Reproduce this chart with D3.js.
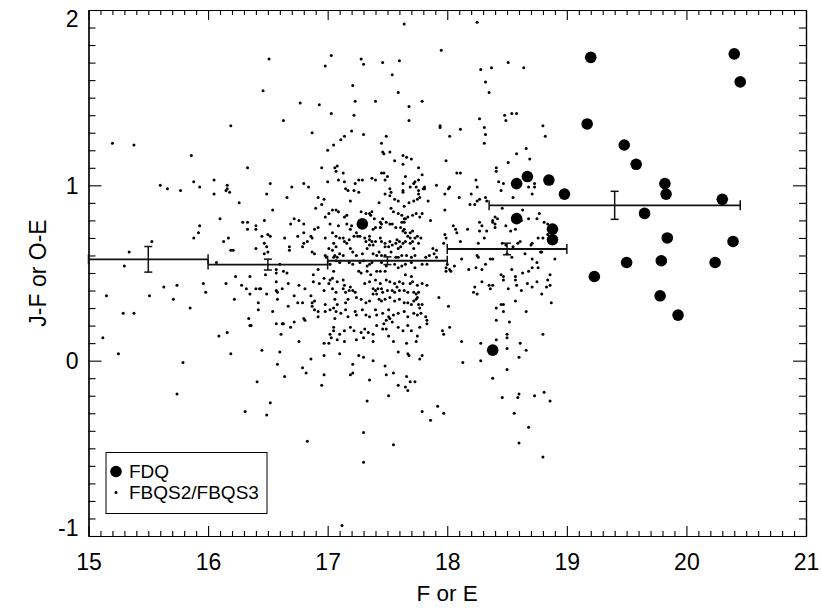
<!DOCTYPE html>
<html>
<head>
<meta charset="utf-8">
<script src="https://cdn.jsdelivr.net/npm/d3@7"></script>
<style>
  html, body { margin: 0; padding: 0; background: #fff; }
  svg { display: block; font-family: "Liberation Sans", Arial, Helvetica, sans-serif; }
</style>
</head>
<body>
<svg id="chart" width="822" height="608"></svg>
<script>
// ---------------- DATA ----------------
const xDomain = [15, 21];
const yDomain = [-1, 2];
const xMajorTicks = [15, 16, 17, 18, 19, 20, 21];
const yMajorTicks = [-1, 0, 1, 2];
const xLabel = "F or E";
const yLabel = "J-F or O-E";
const legendLabels = ["FDQ", "FBQS2/FBQS3"];

// FDQ objects (large dots) : [F or E, J-F or O-E]
const fdq = [[19.20,1.73],[20.40,1.75],[20.45,1.59],[19.17,1.35],[19.48,1.23],[19.58,1.12],[19.82,1.01],[19.83,0.95],[20.30,0.92],[19.65,0.84],[19.84,0.70],[20.39,0.68],[19.50,0.56],[19.79,0.57],[20.24,0.56],[19.23,0.48],[19.78,0.37],[19.93,0.26],[18.67,1.05],[18.58,1.01],[18.85,1.03],[18.98,0.95],[18.58,0.81],[18.88,0.75],[18.88,0.69],[17.29,0.78],[18.38,0.06]];

// FBQS2/FBQS3 objects (small dots)
const fbqs = [
[15.20,1.24],[15.38,1.23],[15.60,1.00],[15.66,0.98],[15.77,0.97],[15.86,1.17],[15.88,1.02],[15.93,0.99],[16.05,1.03],[16.16,1.00],[16.16,0.98],[16.19,1.34],[16.33,1.10],[16.46,1.54],[16.51,1.72],[16.52,1.01],[16.63,1.37],[16.70,0.99],[16.77,1.47],[16.80,1.01],[16.84,0.99],[16.87,1.30],[16.93,1.46],[16.95,1.10],[16.98,1.68],[17.00,1.20],[17.00,1.02],[17.03,1.74],[17.03,1.41],[17.05,1.23],[17.06,1.10],
[17.08,1.11],[17.07,1.08],[17.09,1.03],[17.13,1.07],[17.14,1.02],[17.11,1.26],[17.14,1.28],[17.15,0.98],[17.20,1.31],[17.21,1.57],[17.22,1.40],[17.23,1.48],[17.23,1.01],[17.26,1.03],[17.29,1.03],[17.28,1.72],[17.30,1.69],[17.30,1.29],[17.37,1.04],[17.40,1.03],[17.40,1.48],[17.45,1.24],[17.46,1.70],[17.45,1.07],[17.47,1.07],[17.46,1.19],[17.47,1.18],[17.49,1.28],[17.48,1.03],[17.50,1.05],[17.52,1.19],[17.52,0.98],[17.54,1.63],[17.56,1.14],[17.59,1.53],[17.60,1.71],[17.63,1.17],[17.66,1.16],[17.63,1.12],[17.64,1.92],[17.63,1.01],[17.65,1.05],[17.68,1.45],[17.68,1.37],[17.70,1.15],[17.72,1.01],[17.73,1.02],[17.76,1.03],[17.74,0.99],[17.76,1.10],[17.79,1.48],[17.79,1.06],[17.81,0.99],[17.80,0.98],[17.91,1.00],[17.94,1.33],[17.94,1.34],[17.95,1.77],[17.99,1.14],[18.02,0.99],[18.02,1.28],[18.08,1.07],[18.11,1.07],[18.11,1.32],[18.25,1.93],[18.24,1.03],[18.25,0.99],[18.27,1.38],[18.28,1.66],[18.31,1.33],[18.32,1.59],[18.32,1.29],[18.31,1.24],[18.35,1.53],[18.37,1.67],[18.41,1.10],[18.41,1.08],[18.43,1.02],[18.47,1.01],[18.48,1.40],[18.49,1.37],[18.51,1.70],[18.51,1.13],[18.54,1.41],[18.58,1.41],[18.58,1.18],[18.64,1.67],[18.66,1.21],[18.69,1.15],[18.68,0.99],[18.73,1.01],[18.73,0.99],[18.80,1.34],[18.82,1.28],
[16.15,0.97],[16.18,0.96],[16.05,0.95],[16.26,0.90],[16.49,0.95],[16.66,0.93],[16.92,0.93],[16.97,0.92],[16.90,0.87],[16.95,0.89],[17.01,0.84],[17.04,0.86],[16.98,0.82],[16.54,0.86],[16.10,0.81],[15.93,0.77],[15.92,0.73],[15.88,0.70],[16.13,0.68],[16.17,0.70],[16.19,0.63],[16.21,0.63],[16.29,0.79],[16.33,0.79],[16.33,0.75],[16.40,0.77],[16.40,0.75],[16.47,0.80],[16.45,0.71],[16.40,0.64],[16.47,0.67],[16.49,0.65],[16.50,0.72],[16.52,0.71],[16.47,0.61],[16.50,0.62],[16.64,0.70],[16.68,0.65],[16.68,0.63],[16.69,0.78],[16.72,0.81],[16.76,0.80],[16.80,0.78],[16.75,0.71],[16.80,0.73],[16.79,0.65],[16.80,0.67],[16.83,0.68],[16.86,0.71],[16.87,0.70],[16.89,0.75],[16.92,0.76],[16.87,0.62],[16.89,0.61],[16.98,0.70],[17.01,0.64],[17.04,0.73],[17.05,0.67],[16.98,0.60],[16.99,0.59],[15.53,0.68],[15.34,0.62],[15.30,0.54],[16.07,0.56],[16.60,0.55],[16.48,0.49],[16.57,0.52],[16.57,0.50],[16.63,0.51],[16.66,0.50],[16.92,0.52],[17.05,0.51],[17.04,0.47],[17.02,0.46],[17.01,0.44],[16.88,0.49],[16.88,0.45],[16.93,0.44],[16.97,0.47],[17.04,0.41],[16.97,0.40],[16.81,0.41],[16.76,0.43],[16.67,0.44],[16.57,0.45],[16.62,0.41],[16.57,0.40],[16.58,0.39],[16.49,0.38],[16.58,0.35],[16.43,0.41],[16.40,0.41],[16.44,0.41],[16.35,0.48],[16.23,0.48],[16.28,0.43],[16.32,0.41],[16.35,0.38],[16.15,0.44],[15.96,0.44],[15.98,0.39],[15.74,0.43],[15.63,0.42],[15.71,0.35],[15.51,0.37],[15.15,0.37],[16.22,0.35],[16.42,0.33],[16.42,0.29],[16.54,0.28],[16.67,0.31],[16.72,0.37],[16.75,0.33],[16.79,0.33],[16.86,0.37],[16.89,0.34],[16.87,0.33],[16.87,0.31],[16.89,0.29],[16.92,0.28],[16.98,0.32],[16.98,0.28],[16.92,0.25],[16.81,0.23],[16.80,0.24],[16.72,0.22],[16.69,0.19],[16.62,0.21],[16.63,0.21],[16.57,0.21],[16.61,0.15],[16.34,0.24],[16.35,0.20],[16.36,0.20],[16.16,0.16],[16.09,0.14],[15.85,0.30],[15.38,0.27],[15.29,0.27],[15.12,0.13],[15.25,0.04],[15.79,-0.01],[16.19,0.04],[16.45,0.06],[16.60,0.05],[16.58,-0.02],[16.76,0.11],[16.97,0.10],[17.01,0.10],[17.02,0.15],[17.03,0.13],[17.05,0.19],[17.06,0.24],[16.97,0.03],[16.86,0.01],[16.79,-0.04],[16.82,-0.07],[16.97,-0.08],
[15.74,-0.19],[16.31,-0.29],[16.41,-0.12],[16.49,-0.31],[16.52,-0.24],[16.64,-0.09],[16.83,-0.46],[16.95,-0.14],
[17.19,-0.08],[17.21,-0.07],[17.35,-0.11],[17.33,-0.23],[17.30,-0.41],[17.30,-0.58],[17.49,-0.08],[17.55,-0.07],[17.51,-0.20],[17.55,-0.48],[17.59,-0.14],[17.66,-0.09],[17.65,-0.15],[17.67,-0.17],[17.69,-0.12],[17.73,-0.12],[17.79,-0.29],[17.86,-0.34],[17.92,-0.26],[17.97,-0.30],[17.12,-0.94],[18.38,-0.10],[18.50,-0.05],[18.46,-0.21],[18.59,-0.21],[18.60,-0.19],[18.73,-0.20],[18.81,-0.18],[18.86,-0.23],[18.56,-0.30],[18.68,-0.38],[18.60,-0.47],[18.80,-0.55],
[17.17,0.97],[17.22,0.97],[17.26,0.96],[17.53,0.96],[17.63,0.97],[17.63,0.96],[17.69,0.99],[17.76,0.97],[17.81,0.98],[18.01,0.98],[18.45,0.97],[18.71,0.95],[17.19,0.91],[17.48,0.95],[17.52,0.94],[17.56,0.92],[17.59,0.91],[17.43,0.90],[17.76,0.95],[17.77,0.93],[17.75,0.92],[17.72,0.91],[17.68,0.90],[17.64,0.88],[17.84,0.91],[17.98,0.95],[18.10,0.93],[18.20,0.95],[18.27,0.92],[18.25,0.91],[18.23,0.89],[18.32,0.93],[18.33,0.91],[18.19,0.89],[18.55,0.93],[18.46,0.87],[18.63,0.86],[18.77,0.84],[18.75,0.81],[18.68,0.81],[18.62,0.80],[17.07,0.86],[17.09,0.85],[17.16,0.83],[17.14,0.82],[17.28,0.85],[17.32,0.84],[17.35,0.84],[17.36,0.83],[17.39,0.81],[17.37,0.85],[17.53,0.87],[17.55,0.85],[17.59,0.84],[17.62,0.83],[17.64,0.81],[17.64,0.79],[17.65,0.81],[17.67,0.82],[17.62,0.79],[17.71,0.83],[17.74,0.84],[17.77,0.82],[17.79,0.84],[17.86,0.80],[17.98,0.86],[17.44,0.79],[17.45,0.78],[17.44,0.76],[17.46,0.81],[17.49,0.79],[17.38,0.75],[17.40,0.76],[17.52,0.78],[17.54,0.78],[17.57,0.76],[17.61,0.76],[17.64,0.75],[17.63,0.74],[17.65,0.73],[17.69,0.73],[17.71,0.74],[17.09,0.77],[17.02,0.78],[17.16,0.78],[17.20,0.77],[17.19,0.75],[17.24,0.73],[17.25,0.71],[17.22,0.71],[17.27,0.71],[17.31,0.70],[17.35,0.71],[17.35,0.69],[17.37,0.68],[17.40,0.68],[17.38,0.66],[17.35,0.66],[17.32,0.68],[17.33,0.64],[17.07,0.71],[17.10,0.70],[17.13,0.70],[17.14,0.68],[17.16,0.67],[17.18,0.69],[17.19,0.64],[17.07,0.65],[17.04,0.63],[17.10,0.61],[17.13,0.60],[17.06,0.60],[17.08,0.59],[17.21,0.62],[17.24,0.60],[17.29,0.61],[17.44,0.70],[17.45,0.68],[17.48,0.67],[17.48,0.65],[17.51,0.65],[17.54,0.66],[17.57,0.67],[17.52,0.68],[17.58,0.69],[17.60,0.68],[17.59,0.64],[17.61,0.65],[17.63,0.67],[17.65,0.68],[17.67,0.71],[17.69,0.70],[17.71,0.68],[17.73,0.70],[17.75,0.71],[17.78,0.70],[17.76,0.67],[17.69,0.67],[17.72,0.64],[17.38,0.61],[17.41,0.60],[17.43,0.62],[17.45,0.60],[17.48,0.60],[17.53,0.62],[17.57,0.59],[17.59,0.59],[17.62,0.60],[17.66,0.60],[17.70,0.59],[17.73,0.60],[17.82,0.59],[17.85,0.60],[17.89,0.61],[17.91,0.59],[17.88,0.64],[17.91,0.63],[17.97,0.67],[17.99,0.70],[17.98,0.72],[18.05,0.77],[18.07,0.75],[18.08,0.73],[18.11,0.68],[18.17,0.75],[18.27,0.79],[18.29,0.77],[18.27,0.74],[18.31,0.70],[18.33,0.74],[18.38,0.79],[18.40,0.76],[18.40,0.78],[18.42,0.81],[18.40,0.82],[18.38,0.80],[18.26,0.67],[18.49,0.77],[18.53,0.74],[18.57,0.75],[18.61,0.68],[18.59,0.67],[18.55,0.65],[18.49,0.66],[18.46,0.67],[18.50,0.61],[18.54,0.59],[18.65,0.61],[18.70,0.66],[18.71,0.67],[18.76,0.70],[18.80,0.70],[18.84,0.72],[18.78,0.62],[18.79,0.62],[18.81,0.79],[18.84,0.78],[18.71,0.58],[18.75,0.56],[18.76,0.53],[18.90,0.58],[18.25,0.60],[18.26,0.59],[18.32,0.55],[18.36,0.58],[18.38,0.58],[18.12,0.58],[18.18,0.52],[18.00,0.55],[17.99,0.53],[18.02,0.52],[17.99,0.51],[18.03,0.51],[18.06,0.54],[17.05,0.59],[17.02,0.55],[17.07,0.57],[17.10,0.56],[17.18,0.56],[17.21,0.55],[17.27,0.56],[17.30,0.57],[17.33,0.54],[17.35,0.55],[17.37,0.56],[17.45,0.56],[17.49,0.54],[17.48,0.51],[17.56,0.55],[17.59,0.53],[17.62,0.54],[17.65,0.55],[17.70,0.56],[17.73,0.53],[17.79,0.55],[17.83,0.55],[17.26,0.51],[17.28,0.50],[17.33,0.51],[17.36,0.49],[17.41,0.51],[17.44,0.51],[17.65,0.49],[17.70,0.48],[17.08,0.45],[17.13,0.46],[17.14,0.43],[17.19,0.42],[17.07,0.39],[17.13,0.41],[17.15,0.39],[17.18,0.40],[17.21,0.40],[17.23,0.39],[17.31,0.44],[17.35,0.45],[17.40,0.46],[17.44,0.44],[17.49,0.46],[17.52,0.45],[17.56,0.44],[17.58,0.42],[17.60,0.45],[17.63,0.44],[17.69,0.44],[17.71,0.45],[17.75,0.43],[17.79,0.44],[17.83,0.43],[17.38,0.41],[17.40,0.40],[17.42,0.41],[17.45,0.41],[17.46,0.39],[17.50,0.40],[17.54,0.40],[17.56,0.39],[17.60,0.40],[17.64,0.40],[17.67,0.39],[17.72,0.39],[17.74,0.38],[17.76,0.39],[17.75,0.36],[17.74,0.35],[17.06,0.35],[17.08,0.32],[17.05,0.30],[17.15,0.33],[17.17,0.35],[17.24,0.36],[17.28,0.35],[17.32,0.33],[17.35,0.34],[17.38,0.38],[17.41,0.38],[17.43,0.35],[17.45,0.34],[17.48,0.35],[17.52,0.36],[17.56,0.34],[17.60,0.35],[17.64,0.33],[17.67,0.33],[17.70,0.32],[17.72,0.34],[17.76,0.32],[17.77,0.30],[17.79,0.32],[17.02,0.29],[17.07,0.28],[17.11,0.27],[17.15,0.29],[17.17,0.25],[17.23,0.28],[17.24,0.26],[17.29,0.29],[17.32,0.26],[17.35,0.25],[17.40,0.29],[17.41,0.26],[17.46,0.27],[17.51,0.29],[17.55,0.26],[17.59,0.27],[17.64,0.28],[17.67,0.25],[17.72,0.27],[17.75,0.26],[17.78,0.27],[17.82,0.25],[17.83,0.23],[17.51,0.25],[17.49,0.23],[17.47,0.21],[17.46,0.18],[17.49,0.18],[17.52,0.24],[17.54,0.22],[17.05,0.17],[17.10,0.15],[17.14,0.17],[17.19,0.19],[17.22,0.17],[17.28,0.16],[17.31,0.18],[17.34,0.16],[17.38,0.15],[17.41,0.20],[17.59,0.19],[17.63,0.17],[17.67,0.20],[17.70,0.17],[17.75,0.14],[17.77,0.19],[17.83,0.21],[17.08,0.12],[17.14,0.11],[17.24,0.12],[17.30,0.13],[17.38,0.11],[17.51,0.14],[17.55,0.11],[17.66,0.10],[17.74,0.11],[17.10,0.04],[17.26,0.03],[17.30,0.02],[17.38,0.00],[17.59,0.05],[17.67,0.04],[17.68,0.03],[17.77,0.01],[17.79,0.03],[17.21,-0.02],[17.48,-0.03],[17.93,0.36],[18.01,0.31],[17.96,0.17],[17.97,0.15],[18.02,0.19],[18.12,0.11],[18.13,-0.01],[18.28,0.00],[18.28,0.10],[18.41,0.12],[18.50,0.15],[18.50,0.13],[18.50,0.07],[18.60,0.02],[18.61,0.10],[18.66,0.06],[18.80,0.15],[18.41,0.30],[18.45,0.32],[18.47,0.32],[18.47,0.28],[18.41,0.23],[18.52,0.22],[18.66,0.28],[18.57,0.34],[18.23,0.42],[18.22,0.39],[18.25,0.38],[18.29,0.45],[18.35,0.43],[18.36,0.41],[18.38,0.43],[18.47,0.46],[18.51,0.41],[18.57,0.46],[18.58,0.43],[18.62,0.40],[18.67,0.44],[18.71,0.42],[18.75,0.45],[18.79,0.38],[18.83,0.42],[18.84,0.46],[18.86,0.43],[18.86,0.49],[18.87,0.33],[18.63,0.50],[18.68,0.51],[18.71,0.53],[18.45,0.49],[18.47,0.48],[18.54,0.52],[18.57,0.48],[18.24,0.53],[18.29,0.52]
];

// Binned means with error bars
const binLo   = [15.00, 16.00, 17.00, 18.00, 18.35];
const binHi   = [16.00, 17.00, 18.00, 19.00, 20.45];
const binMid  = [15.50, 16.50, 17.50, 18.50, 19.40];
const binMean = [0.578, 0.548, 0.570, 0.637, 0.886];
const binErr  = [0.073, 0.031, 0.022, 0.033, 0.080];

// ---------------- LAYOUT ----------------
const plot = { left: 88.5, right: 806, top: 10, bottom: 536 };
const svg = d3.select("#chart");

const x = d3.scaleLinear().domain(xDomain).range([plot.left, plot.right]);
const y = d3.scaleLinear().domain(yDomain).range([plot.bottom, plot.top]);

const xMinor = d3.range(151, 210).filter(v => v % 10 !== 0).map(v => v / 10);
const yMinor = d3.range(-9, 20).filter(v => v % 10 !== 0).map(v => v / 10);

const fontFam = '"Liberation Sans", Arial, Helvetica, sans-serif';
const tickFont = 23;

function styleAxis(g) {
  g.selectAll("path.domain").attr("stroke", "#000").attr("stroke-width", 1.2);
  g.selectAll(".tick line").attr("stroke", "#000").attr("stroke-width", 1.1);
  g.selectAll(".tick text").attr("fill", "#000").attr("font-size", tickFont).attr("font-family", fontFam);
}

// Bottom axis
const gB = svg.append("g").attr("transform", `translate(0,${plot.bottom})`)
  .call(d3.axisBottom(x).tickValues(xMajorTicks).tickSize(-10).tickSizeOuter(0).tickPadding(18).tickFormat(d3.format("d")));
styleAxis(gB);
const gBm = svg.append("g").attr("transform", `translate(0,${plot.bottom})`)
  .call(d3.axisBottom(x).tickValues(xMinor).tickSize(-5).tickSizeOuter(0).tickFormat(""));
styleAxis(gBm);

// Top axis
const gT = svg.append("g").attr("transform", `translate(0,${plot.top})`)
  .call(d3.axisTop(x).tickValues(xMajorTicks).tickSize(-10).tickSizeOuter(0).tickFormat(""));
styleAxis(gT);
const gTm = svg.append("g").attr("transform", `translate(0,${plot.top})`)
  .call(d3.axisTop(x).tickValues(xMinor).tickSize(-5).tickSizeOuter(0).tickFormat(""));
styleAxis(gTm);

// Left axis
const gL = svg.append("g").attr("transform", `translate(${plot.left},0)`)
  .call(d3.axisLeft(y).tickValues(yMajorTicks).tickSize(-13).tickSizeOuter(0).tickPadding(10).tickFormat(d => d3.format("d")(d).replace("−", "-")));
styleAxis(gL);
// keep end labels inside the axis span, as in the reference
gL.selectAll(".tick text").attr("dy", d => d === yDomain[1] ? "0.72em" : (d === yDomain[0] ? "-0.04em" : "0.34em"));
const gLm = svg.append("g").attr("transform", `translate(${plot.left},0)`)
  .call(d3.axisLeft(y).tickValues(yMinor).tickSize(-7).tickSizeOuter(0).tickFormat(""));
styleAxis(gLm);

// Right axis
const gR = svg.append("g").attr("transform", `translate(${plot.right},0)`)
  .call(d3.axisRight(y).tickValues(yMajorTicks).tickSize(-13).tickSizeOuter(0).tickFormat(""));
styleAxis(gR);
const gRm = svg.append("g").attr("transform", `translate(${plot.right},0)`)
  .call(d3.axisRight(y).tickValues(yMinor).tickSize(-7).tickSizeOuter(0).tickFormat(""));
styleAxis(gRm);

// Axis titles
svg.append("text")
  .attr("x", (plot.left + plot.right) / 2).attr("y", 601)
  .attr("text-anchor", "middle").attr("font-size", 22.5).attr("font-family", fontFam)
  .text(xLabel);
svg.append("text")
  .attr("transform", `translate(46,${(plot.top + plot.bottom) / 2}) rotate(-90)`)
  .attr("text-anchor", "middle").attr("font-size", 23).attr("font-family", fontFam)
  .text(yLabel);

// Small dots
svg.append("g").selectAll("circle").data(fbqs).join("circle")
  .attr("cx", d => x(d[0])).attr("cy", d => y(d[1])).attr("r", 1.5).attr("fill", "#000");

// Large dots
svg.append("g").selectAll("circle").data(fdq).join("circle")
  .attr("cx", d => x(d[0])).attr("cy", d => y(d[1])).attr("r", 5.8).attr("fill", "#000");

// Binned means with error bars
const bins = binMid.map((m, i) => ({ lo: binLo[i], hi: binHi[i], mid: m, mean: binMean[i], err: binErr[i] }));
const gBins = svg.append("g").attr("stroke", "#111").attr("fill", "none");
bins.forEach(b => {
  const yy = y(b.mean);
  gBins.append("line").attr("x1", x(b.lo)).attr("x2", x(b.hi)).attr("y1", yy).attr("y2", yy).attr("stroke-width", 1.8);
  [b.lo, b.hi].forEach(e => gBins.append("line").attr("x1", x(e)).attr("x2", x(e)).attr("y1", yy - 5).attr("y2", yy + 5).attr("stroke-width", 1.5));
  gBins.append("line").attr("x1", x(b.mid)).attr("x2", x(b.mid)).attr("y1", y(b.mean + b.err)).attr("y2", y(b.mean - b.err)).attr("stroke-width", 1.5);
  [b.mean + b.err, b.mean - b.err].forEach(v => gBins.append("line").attr("x1", x(b.mid) - 4).attr("x2", x(b.mid) + 4).attr("y1", y(v)).attr("y2", y(v)).attr("stroke-width", 1.5));
});

// Legend
const lg = svg.append("g");
lg.append("rect").attr("x", 106).attr("y", 452.5).attr("width", 161).attr("height", 61)
  .attr("fill", "#fff").attr("stroke", "#000").attr("stroke-width", 1);
lg.append("circle").attr("cx", 116).attr("cy", 471.5).attr("r", 5.8).attr("fill", "#000");
lg.append("circle").attr("cx", 116).attr("cy", 492.5).attr("r", 1.5).attr("fill", "#000");
lg.append("text").attr("x", 129).attr("y", 478).attr("font-size", 19).attr("font-family", fontFam).text(legendLabels[0]);
lg.append("text").attr("x", 129).attr("y", 499).attr("font-size", 19).attr("font-family", fontFam).text(legendLabels[1]);
</script>
</body>
</html>
